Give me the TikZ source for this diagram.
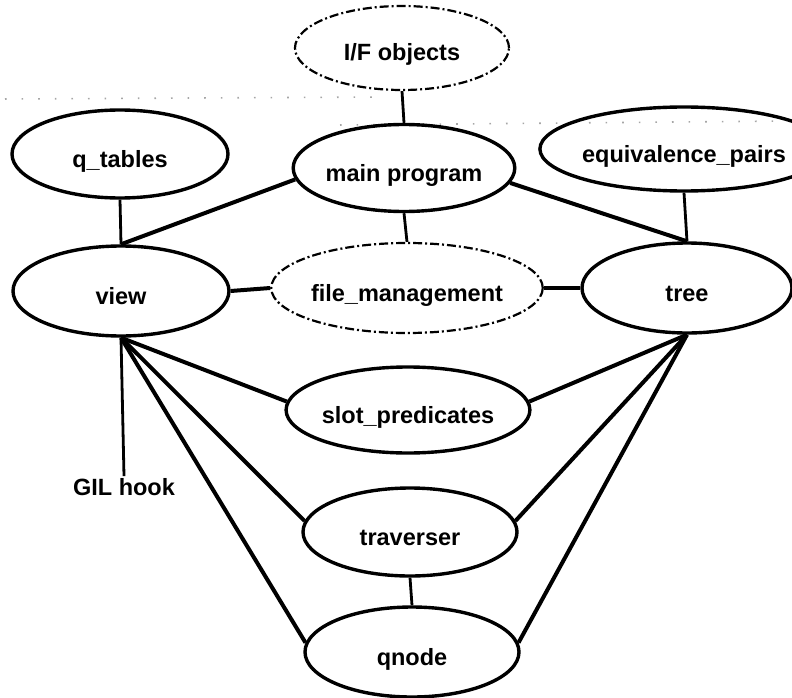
\documentclass[tikz,border=0pt]{standalone}
\usepackage{fontspec}
\setmainfont{Liberation Sans}
\usetikzlibrary{shapes.geometric}

\tikzset{
  modbox/.style={ellipse, draw, line width=3.4pt, inner sep=0pt,
    text height=26pt, text depth=0pt,
    font=\fontsize{23.5}{27}\selectfont\bfseries},
  extbox/.style={modbox, line width=2.2pt,
    dash pattern=on 9pt off 3pt on 2pt off 3pt},
  link/.style={line width=4pt},
  stem/.style={line width=2.8pt},
  speck/.style={gray!70, line width=1.6pt, dash pattern=on 1.6pt off 15pt}
}

\begin{document}
\begin{tikzpicture}[x=1pt, y=-1pt]
  \useasboundingbox (0,0) rectangle (792,698);

  % faint dotted rules across the upper part
  \draw[speck] (5,99) -- (385,97);
  \draw[speck] (340,125) -- (790,121);

  % modules
  \node[extbox, minimum width=214pt, minimum height=84pt] (ifo)   at (402,48)  {I/F objects};
  \node[modbox, minimum width=213pt, minimum height=87pt] (main)  at (404,168) {main program};
  \node[modbox, minimum width=216pt, minimum height=88pt] (qt)    at (120,154) {q\_tables};
  \node[modbox, minimum width=212pt, minimum height=84pt] (eq)    at (684,149) {equivalence\_pairs};
  \node[modbox, minimum width=216pt, minimum height=90pt] (view)  at (121,291) {view};
  \node[extbox, minimum width=210pt, minimum height=90pt] (fm)    at (407,288) {file\_management};
  \node[modbox, minimum width=210pt, minimum height=90pt] (tree)  at (687,288) {tree};
  \node[modbox, minimum width=212pt, minimum height=86pt] (sp)    at (408,410) {slot\_predicates};
  \node[modbox, minimum width=214pt, minimum height=88pt] (trav)  at (410,532) {traverser};
  \node[modbox, minimum width=214pt, minimum height=90pt] (qnode) at (412,652) {qnode};
  \node[font=\fontsize{23.5}{27}\selectfont\bfseries, inner sep=2pt] (gil) at (124,487) {GIL hook};

  % vertical stems
  \draw[stem] (ifo.south) -- (main.north);
  \draw[stem] (qt.south) -- (view.north);
  \draw[stem] (eq.south) -- (tree.north);
  \draw[stem] (main.south) -- (fm.north);
  \draw[stem] (trav.south) -- (qnode.north);
  \draw[stem] (view.south) -- (gil.north);

  % main links
  \draw[link] (main.186) -- (view.north);
  \draw[link] (main.352) -- (tree.north);
  \draw[link] (view.east) -- (fm.west);
  \draw[link] (fm.east) -- (tree.west);

  \draw[link] (view.south) -- (sp.176);
  \draw[link] (view.south) -- (trav.174);
  \draw[link] (view.south) -- (qnode.175);

  \draw[link] (tree.south) -- (sp.4);
  \draw[link] (tree.south) -- (trav.6);
  \draw[link] (tree.south) -- (qnode.5);
\end{tikzpicture}
\end{document}
